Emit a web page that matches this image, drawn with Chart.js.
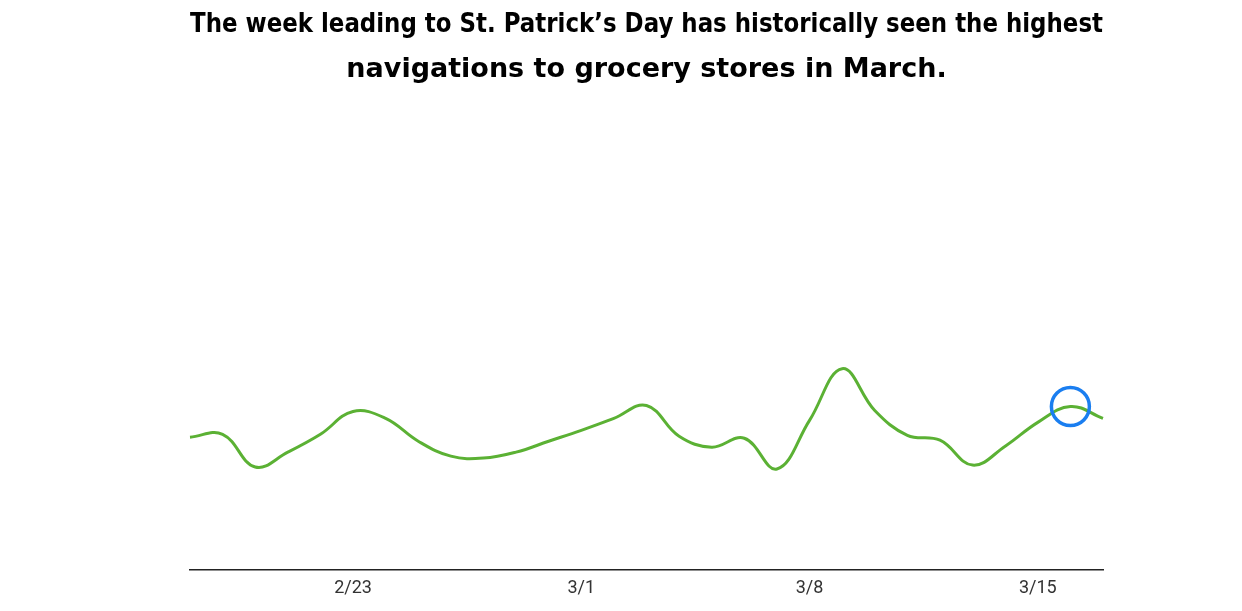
<!DOCTYPE html>
<html><head><meta charset="utf-8">
<script src="https://cdn.jsdelivr.net/npm/chart.js@4"></script>
<style>html,body{margin:0;padding:0;background:#fff}#w{width:1242px;height:611px}</style>
</head><body><div id="w"><canvas id="c"></canvas></div>
<script>
const dates = ["2/18","2/19","2/20","2/21","2/22","2/23","2/24","2/25","2/26","2/27","2/28","2/29","3/1","3/2","3/3","3/4","3/5","3/6","3/7","3/8","3/9","3/10","3/11","3/12","3/13","3/14","3/15","3/16","3/17"];
const navigations = [133,136,103,118,136,159,152,129,114,112,118,129,140,152,165,134,123,132,101,150,202,160,135,130,105,124,148,164,152];
const shownTicks = ["2/23","3/1","3/8","3/15"];
const highlightIndex = 27;
const titleLines = ["The week leading to St. Patrick’s Day has historically seen the highest","navigations to grocery stores in March."];

new Chart(document.getElementById('c'), {
  type: 'line',
  data: { labels: dates, datasets: [{
    data: navigations,
    borderColor: '#5bb134', borderWidth: 3, tension: 0.4, fill: false,
    pointRadius: navigations.map((v,i)=> i===highlightIndex ? 19 : 0),
    pointBorderColor: '#1a7ef0', pointBorderWidth: 3.5, pointBackgroundColor: 'rgba(0,0,0,0)'
  }]},
  options: {
    responsive: true, maintainAspectRatio: false, animation: false,
    layout: { padding: { left: 190, right: 139, top: 0, bottom: 4 } },
    plugins: {
      legend: { display: false }, tooltip: { enabled: false },
      title: { display: true, text: titleLines, color: '#000',
        font: { family: 'DejaVu Sans', size: 27, weight: 'bold', lineHeight: 1.67 },
        padding: { top: 2, bottom: 47 } }
    },
    scales: {
      x: { grid: { display: false, drawTicks: false },
        border: { display: true, color: '#222', width: 1.5 },
        ticks: { autoSkip: false, maxRotation: 0, color: '#333', padding: 8,
          font: { family: 'Roboto', size: 18 },
          callback: function(v){ const l = dates[v]; return shownTicks.includes(l) ? l : ''; } } },
      y: { display: false, min: 0, max: 433 }
    }
  }
});
</script></body></html>
